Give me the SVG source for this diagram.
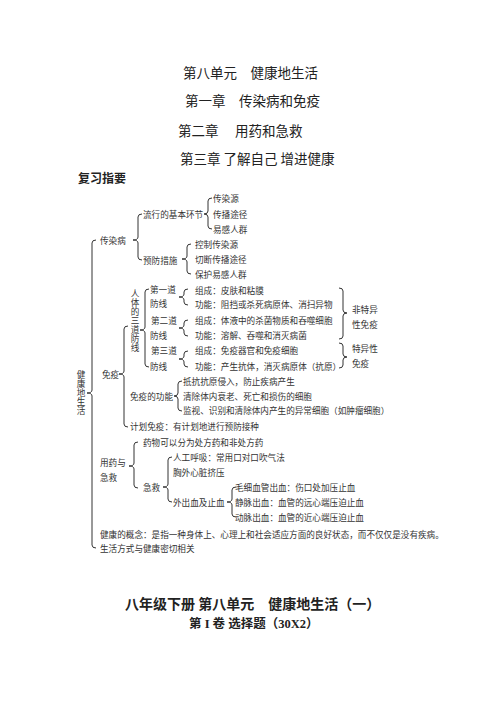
<svg xmlns="http://www.w3.org/2000/svg" width="502" height="708" viewBox="0 0 502 708">
<style>
.t{font-family:"Noto Sans CJK SC","Noto Sans",sans-serif;fill:#222;dominant-baseline:central}
.h{font-size:13.5px}
.s{font-size:8.6px;fill:#333}
.v{writing-mode:vertical-rl;letter-spacing:0.4px}
.b{font-weight:bold}
.br{fill:none;stroke:#333;stroke-width:1}
</style>
<rect width="502" height="708" fill="#fff"/>
<g id="titles">
<text class="t h" x="183" y="72">第八单元　健康地生活</text>
<text class="t h" x="185" y="100">第一章　传染病和免疫</text>
<text class="t h" x="178" y="130">第二章　 用药和急救</text>
<text class="t h" x="180" y="158">第三章 了解自己 增进健康</text>
<text class="t b" x="78" y="177" font-size="12">复习指要</text>
</g>
<g id="connectors">
<path class="br" d="M96,240 Q92,240 92,243 L92,390 Q92,393 87,393 Q92,393 92,396 L92,545 Q92,548 96,548"/>
<path class="br" d="M142,214 Q138,214 138,217 L138,237 Q138,240 133,240 Q138,240 138,243 L138,257 Q138,260 142,260"/>
<path class="br" d="M212,198 Q208,198 208,201 L208,211 Q208,214 204,214 Q208,214 208,217 L208,226 Q208,229 212,229"/>
<path class="br" d="M191,244 Q187,244 187,247 L187,256 Q187,259 182,259 Q187,259 187,262 L187,271 Q187,274 191,274"/>
<path class="br" d="M128,326 Q124,326 124,329 L124,371 Q124,374 119,374 Q124,374 124,377 L124,424 Q124,427 128,427"/>
<path class="br" d="M149,289 Q145,289 145,292 L145,327 Q145,330 140,330 Q145,330 145,333 L145,364 Q145,367 149,367"/>
<path class="br" d="M188,289 Q184,289 184,292 L184,294 Q184,297 179,297 Q184,297 184,300 L184,302 Q184,305 188,305"/>
<path class="br" d="M188,320 Q184,320 184,323 L184,325 Q184,328 179,328 Q184,328 184,331 L184,333 Q184,336 188,336"/>
<path class="br" d="M188,351 Q184,351 184,354 L184,356 Q184,359 179,359 Q184,359 184,362 L184,364 Q184,367 188,367"/>
<path class="br" d="M182,381 Q178,381 178,384 L178,393 Q178,396 174,396 Q178,396 178,399 L178,408 Q178,411 182,411"/>
<path class="br" d="M138,442 Q134,442 134,445 L134,463 Q134,466 129,466 Q134,466 134,469 L134,485 Q134,488 138,488"/>
<path class="br" d="M172,457 Q168,457 168,460 L168,484 Q168,487 163,487 Q168,487 168,490 L168,499 Q168,502 172,502"/>
<path class="br" d="M236,487 Q232,487 232,490 L232,499 Q232,502 227,502 Q232,502 232,505 L232,514 Q232,517 236,517"/>
<path class="br" d="M339,288 Q343,288 343,291 L343,310 Q343,313 347,313 Q343,313 343,316 L343,336 Q343,339 339,339"/>
<path class="br" d="M339,343 Q343,343 343,346 L343,354 Q343,357 347,357 Q343,357 343,360 L343,365 Q343,368 339,368"/>
</g>
<g id="root">
<text class="t s v" x="81" y="370.7">健康地生活</text>
</g>
<g id="n-infect">
<text class="t s" x="100" y="240">传染病</text>
<text class="t s" x="143" y="214">流行的基本环节</text>
<text class="t s" x="213" y="198">传染源</text>
<text class="t s" x="213" y="214">传播途径</text>
<text class="t s" x="213" y="229">易感人群</text>
<text class="t s" x="143" y="260">预防措施</text>
<text class="t s" x="195" y="244">控制传染源</text>
<text class="t s" x="195" y="259">切断传播途径</text>
<text class="t s" x="195" y="274">保护易感人群</text>
</g>
<g id="n-immune">
<text class="t s" x="102" y="374">免疫</text>
<text class="t s v" x="135" y="289.7">人体的三道防线</text>
<text class="t s" x="150" y="289">第一道</text>
<text class="t s" x="150" y="303">防线</text>
<text class="t s" x="151" y="320">第二道</text>
<text class="t s" x="150" y="335">防线</text>
<text class="t s" x="151" y="350">第三道</text>
<text class="t s" x="150" y="366">防线</text>
<text class="t s" x="195" y="290">组成：皮肤和粘膜</text>
<text class="t s" x="195" y="304">功能：阻挡或杀死病原体、消扫异物</text>
<text class="t s" x="195" y="320">组成：体液中的杀菌物质和吞噬细胞</text>
<text class="t s" x="195" y="335">功能：溶解、吞噬和消灭病菌</text>
<text class="t s" x="195" y="350">组成：免疫器官和免疫细胞</text>
<text class="t s" x="195" y="366">功能：产生抗体，消灭病原体（抗原）</text>
<text class="t s" x="352" y="309">非特异</text>
<text class="t s" x="352" y="324">性免疫</text>
<text class="t s" x="352" y="348">特异性</text>
<text class="t s" x="352" y="363">免疫</text>
<text class="t s" x="130" y="396">免疫的功能</text>
<text class="t s" x="183" y="381">抵抗抗原侵入，防止疾病产生</text>
<text class="t s" x="183" y="396">清除体内衰老、死亡和损伤的细胞</text>
<text class="t s" x="183" y="410">监视、识别和清除体内产生的异常细胞（如肿瘤细胞）</text>
<text class="t s" x="130" y="426">计划免疫：有计划地进行预防接种</text>
</g>
<g id="n-drug">
<text class="t s" x="100" y="462">用药与</text>
<text class="t s" x="100" y="477">急救</text>
<text class="t s" x="143" y="442">药物可以分为处方药和非处方药</text>
<text class="t s" x="143" y="487">急救</text>
<text class="t s" x="173" y="457">人工呼吸：常用口对口吹气法</text>
<text class="t s" x="173" y="472">胸外心脏挤压</text>
<text class="t s" x="173" y="502">外出血及止血</text>
<text class="t s" x="235" y="487">毛细血管出血：伤口处加压止血</text>
<text class="t s" x="235" y="502">静脉出血：血管的远心端压迫止血</text>
<text class="t s" x="235" y="517">动脉出血：血管的近心端压迫止血</text>
</g>
<g id="n-health">
<text class="t s" x="100" y="534">健康的概念：是指一种身体上、心理上和社会适应方面的良好状态，而不仅仅是没有疾病。</text>
<text class="t s" x="100" y="548">生活方式与健康密切相关</text>
</g>
<g id="footer">
<text class="t b" x="125" y="603" font-size="14">八年级下册 第八单元　健康地生活（一）</text>
<text class="t b" x="189" y="624" font-size="12.5" style="font-family:'Liberation Serif','Noto Sans CJK SC',serif">第 I 卷 选择题（30X2）</text>
</g>
</svg>
